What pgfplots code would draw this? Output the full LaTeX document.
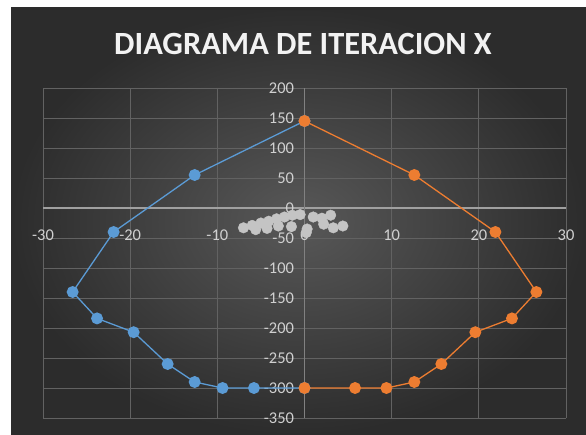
\documentclass[border=0pt]{standalone}
\usepackage{pgfplots}
\pgfplotsset{compat=1.18}
\usepackage{fontspec}
\setmainfont{Carlito}
\definecolor{bgin}{HTML}{585858}
\definecolor{bgout}{HTML}{2C2C2C}
\definecolor{gridc}{HTML}{626262}
\definecolor{zeroc}{HTML}{A0A0A0}
\definecolor{tickc}{HTML}{D0D0D0}
\definecolor{titlec}{HTML}{F2F2F2}
\definecolor{sblue}{HTML}{5B9BD5}
\definecolor{sorange}{HTML}{ED7D31}
\definecolor{sgray}{HTML}{C4C4C4}
\begin{document}
\begin{tikzpicture}[x=1bp,y=1bp]
\fill[white] (0,0) rectangle (586,-435);
\shade[inner color=bgin, outer color=bgout] (11,-8) rectangle (586,-435);
\node[text=titlec, font=\fontsize{32.5}{38}\selectfont\bfseries] at (303,-44) {DIAGRAMA DE ITERACION X};
\begin{axis}[
  at={(43bp,-418bp)}, anchor=south west,
  width=523bp, height=330bp, scale only axis,
  xmin=-30, xmax=30, ymin=-350, ymax=200,
  xtick={-30,-20,...,30}, ytick={-350,-300,...,200},
  axis lines=middle,
  x axis line style={-, draw=zeroc, line width=1.2bp},
  y axis line style={-, draw=gridc!80!white, line width=0.8bp},
  hide obscured x ticks=false, hide obscured y ticks=false,
  grid=major,
  major grid style={draw=gridc, line width=0.7bp},
  major tick length=0,
  tick label style={text=tickc, font=\fontsize{16.5}{19}\selectfont},
  xticklabel style={anchor=north, yshift=-18bp},
  yticklabel style={anchor=east, xshift=-7bp},
  /pgf/number format/assume math mode=true,
  clip=false,
]
\addplot[only marks, mark=*, mark size=5.3bp, mark options={draw=sgray, fill=sgray}] coordinates {
(-7.0,-33) (-6.0,-29) (-5.0,-25) (-4.1,-22) (-3.2,-18) (-2.3,-15) (-1.4,-12) (-0.5,-11)
(1.0,-15) (2.0,-17) (3.0,-12) (4.4,-30) (3.3,-33) (2.2,-27) (0.3,-35) (0.2,-41)
(-1.5,-31) (-3.0,-30) (-4.3,-34) (-5.6,-36)
};
\addplot[sblue, line width=1.3bp, mark=*, mark size=5.3bp, mark options={draw=sblue, fill=sblue}] coordinates {
(0,145) (-12.6,55) (-21.9,-40) (-26.6,-140) (-23.8,-184) (-19.6,-207) (-15.7,-260) (-12.6,-290) (-9.4,-300) (-5.8,-300) (0,-300)
};
\addplot[sorange, line width=1.3bp, mark=*, mark size=5.3bp, mark options={draw=sorange, fill=sorange}] coordinates {
(0,145) (12.6,55) (21.9,-40) (26.6,-140) (23.8,-184) (19.6,-207) (15.7,-260) (12.6,-290) (9.4,-300) (5.8,-300) (0,-300)
};
\end{axis}
\pgfresetboundingbox
\path[use as bounding box] (0,0) rectangle (586,-435);
\end{tikzpicture}
\end{document}
